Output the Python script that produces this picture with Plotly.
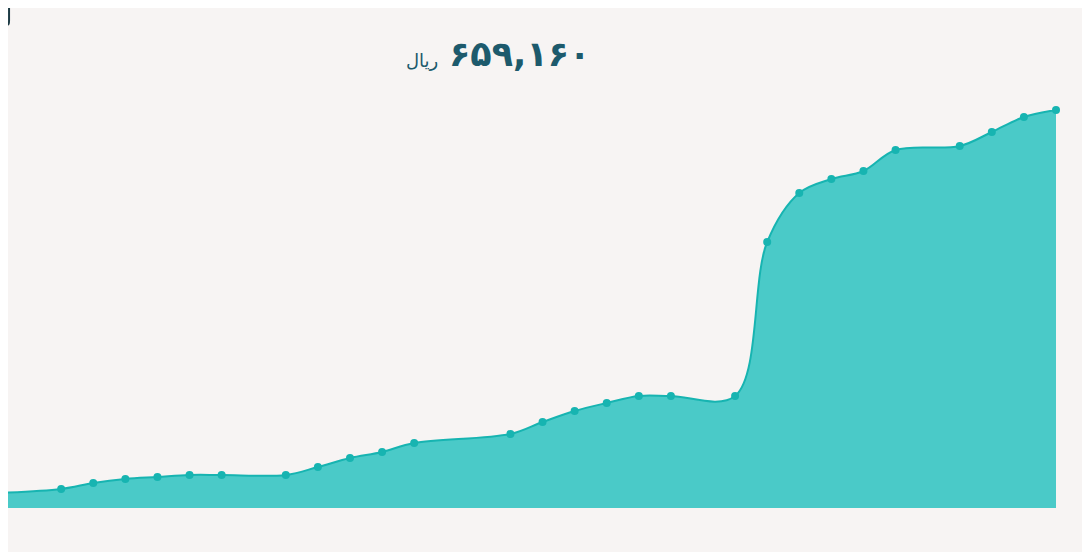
"""Area chart of a rial price series with the latest value as a headline."""

import plotly.graph_objects as go

# trading days (Fridays and one holiday are missing from the series)
dates = [
    "2024-01-04", "2024-01-06", "2024-01-07", "2024-01-08", "2024-01-09",
    "2024-01-10", "2024-01-11", "2024-01-13", "2024-01-14", "2024-01-15",
    "2024-01-16", "2024-01-17", "2024-01-20", "2024-01-21", "2024-01-22",
    "2024-01-23", "2024-01-24", "2024-01-25", "2024-01-27", "2024-01-28",
    "2024-01-29", "2024-01-30", "2024-01-31", "2024-02-01", "2024-02-03",
    "2024-02-04", "2024-02-05", "2024-02-06",
]
prices = [
    24840, 31470, 41400, 48030, 51340,
    54650, 54650, 54650, 67900, 82810,
    92750, 107650, 122560, 142430, 160650,
    173900, 185490, 185490, 185490, 440550,
    521700, 544890, 558130, 592910, 599540,
    622730, 647570, 659160,
]
currency = "ریال"

FILL = "#4acac8"
LINE = "#17b4b1"
BG = "#f7f4f3"
INK = "#1d5a6c"

PERSIAN = str.maketrans("0123456789", "۰۱۲۳۴۵۶۷۸۹")
headline = f"{prices[-1]:,}".translate(PERSIAN)

fig = go.Figure()
fig.add_trace(go.Scatter(
    x=dates, y=prices, mode="lines+markers",
    line=dict(color=LINE, width=2, shape="spline", smoothing=1),
    marker=dict(color=LINE, size=8),
    fill="tozeroy", fillcolor=FILL,
    cliponaxis=False, hoverinfo="x+y",
))

fig.add_annotation(
    xref="paper", yref="paper", x=0.4885, y=1.14,
    text=f"<b>{headline}</b>", showarrow=False,
    font=dict(family="DejaVu Sans", size=35, color=INK),
    xanchor="center", yanchor="middle",
)
fig.add_annotation(
    xref="paper", yref="paper", x=0.412, y=1.125,
    text=currency, showarrow=False,
    font=dict(family="DejaVu Sans", size=18, color=INK),
    xanchor="right", yanchor="middle",
)

# edge of a neighbouring box peeking in at the top-left corner
fig.add_shape(
    type="path", xref="paper", yref="paper",
    path="M 0.001,1.26 L 0.001,1.225 Q 0.001,1.215 0,1.215",
    line=dict(color="#1d3b44", width=2),
)

fig.update_layout(
    width=1090, height=552,
    margin=dict(l=0, r=42, t=102, b=52),
    paper_bgcolor=BG, plot_bgcolor=BG,
    showlegend=False,
    xaxis=dict(visible=False, range=["2024-01-04 08:14", "2024-02-06"]),
    yaxis=dict(visible=False, range=[0, max(prices)]),
)

fig.write_html("out.html")
